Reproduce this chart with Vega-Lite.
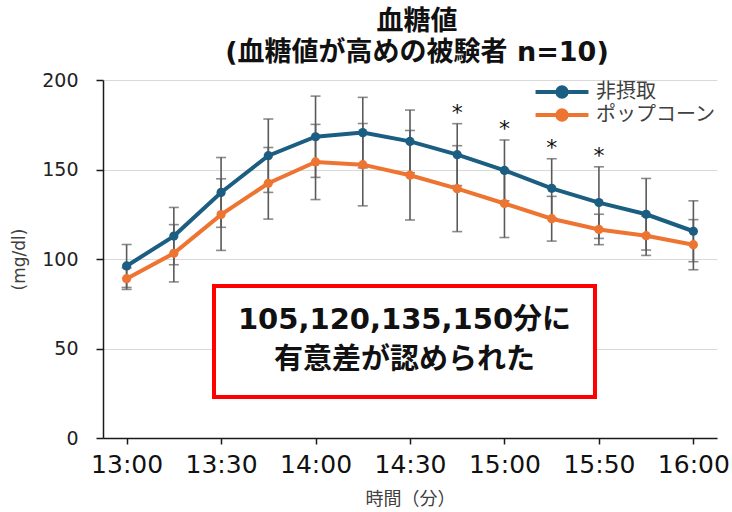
{
  "$schema": "https://vega.github.io/schema/vega-lite/v6.json",
  "width": 614,
  "height": 358,
  "autosize": {"type": "none"},
  "padding": {"left": 103, "top": 80, "right": 15, "bottom": 74},
  "background": "white",
  "title": {
    "text": ["血糖値", "(血糖値が高めの被験者 n=10)"],
    "font": "'DejaVu Sans', 'Noto Sans CJK JP'",
    "fontSize": 27,
    "fontWeight": "bold",
    "lineHeight": 31,
    "color": "#111111",
    "anchor": "middle",
    "dx": 7,
    "offset": 4
  },
  "config": {
    "view": {"stroke": null},
    "axis": {"gridColor": "#d9d9d9", "gridWidth": 1, "domainColor": "#1a1a1a", "domainWidth": 1.5, "tickColor": "#1a1a1a", "tickWidth": 1.5}
  },
  "datasets": {
    "glucose": [
      {"time": 0, "group": "非摂取", "mean": 96.1, "lower": 84.1, "upper": 108.1, "sig": false},
      {"time": 15, "group": "非摂取", "mean": 112.8, "lower": 96.8, "upper": 128.8, "sig": false},
      {"time": 30, "group": "非摂取", "mean": 137.2, "lower": 117.7, "upper": 156.7, "sig": false},
      {"time": 45, "group": "非摂取", "mean": 157.7, "lower": 137.2, "upper": 178.2, "sig": false},
      {"time": 60, "group": "非摂取", "mean": 168.3, "lower": 145.6, "upper": 191.0, "sig": false},
      {"time": 75, "group": "非摂取", "mean": 170.6, "lower": 150.9, "upper": 190.3, "sig": false},
      {"time": 90, "group": "非摂取", "mean": 165.7, "lower": 148.2, "upper": 183.2, "sig": false},
      {"time": 105, "group": "非摂取", "mean": 158.3, "lower": 141.0, "upper": 175.6, "sig": true},
      {"time": 120, "group": "非摂取", "mean": 149.5, "lower": 132.5, "upper": 166.5, "sig": true},
      {"time": 135, "group": "非摂取", "mean": 139.5, "lower": 123.0, "upper": 156.0, "sig": true},
      {"time": 150, "group": "非摂取", "mean": 131.5, "lower": 111.5, "upper": 151.5, "sig": true},
      {"time": 165, "group": "非摂取", "mean": 125.0, "lower": 105.0, "upper": 145.0, "sig": false},
      {"time": 180, "group": "非摂取", "mean": 115.5, "lower": 98.5, "upper": 132.5, "sig": false},
      {"time": 0, "group": "ポップコーン", "mean": 89.0, "lower": 83.0, "upper": 95.0, "sig": false},
      {"time": 15, "group": "ポップコーン", "mean": 103.2, "lower": 87.2, "upper": 119.2, "sig": false},
      {"time": 30, "group": "ポップコーン", "mean": 124.8, "lower": 104.8, "upper": 144.8, "sig": false},
      {"time": 45, "group": "ポップコーン", "mean": 142.3, "lower": 122.3, "upper": 162.3, "sig": false},
      {"time": 60, "group": "ポップコーン", "mean": 154.2, "lower": 133.2, "upper": 175.2, "sig": false},
      {"time": 75, "group": "ポップコーン", "mean": 152.7, "lower": 129.7, "upper": 175.7, "sig": false},
      {"time": 90, "group": "ポップコーン", "mean": 146.8, "lower": 121.8, "upper": 171.8, "sig": false},
      {"time": 105, "group": "ポップコーン", "mean": 139.3, "lower": 115.3, "upper": 163.3, "sig": true},
      {"time": 120, "group": "ポップコーン", "mean": 131.0, "lower": 112.0, "upper": 150.0, "sig": true},
      {"time": 135, "group": "ポップコーン", "mean": 122.5, "lower": 110.0, "upper": 135.0, "sig": true},
      {"time": 150, "group": "ポップコーン", "mean": 116.5, "lower": 108.0, "upper": 125.0, "sig": true},
      {"time": 165, "group": "ポップコーン", "mean": 113.0, "lower": 102.0, "upper": 124.0, "sig": false},
      {"time": 180, "group": "ポップコーン", "mean": 108.0, "lower": 94.0, "upper": 122.0, "sig": false}
    ],
    "note": [
      {"x0": 27.75, "x1": 148.75, "y0": 22.9, "y1": 84.9, "xm": 88.25, "ym": 65.9, "label": "105,120,135,150分に\n有意差が認められた"}
    ]
  },
  "layer": [
    {
      "data": {"name": "glucose"},
      "mark": {"type": "rule", "strokeWidth": 1.6, "color": "#5a5a5a"},
      "encoding": {
        "x": {
          "field": "time", "type": "quantitative",
          "scale": {"domain": [-7.5, 187.5], "nice": false, "zero": false},
          "axis": {
            "title": "時間（分）",
            "titleFont": "Noto Sans CJK JP", "titleFontSize": 18, "titleFontWeight": "normal", "titleColor": "#404040", "titlePadding": 13,
            "values": [0, 30, 60, 90, 120, 150, 180],
            "labelExpr": "['13:00','13:30','14:00','14:30','15:00','15:50','16:00'][datum.value/30]",
            "labelFont": "DejaVu Sans", "labelFontSize": 25, "labelColor": "#111111", "labelPadding": 8,
            "tickSize": 6, "grid": false
          }
        },
        "y": {
          "field": "lower", "type": "quantitative",
          "scale": {"domain": [0, 200]},
          "axis": {
            "title": "(mg/dl)",
            "titleFont": "DejaVu Sans", "titleFontSize": 17, "titleFontWeight": "normal", "titleColor": "#404040", "titlePadding": 13,
            "values": [0, 50, 100, 150, 200],
            "labelFont": "DejaVu Sans", "labelFontSize": 19, "labelColor": "#222222", "labelPadding": 18,
            "tickSize": 7, "grid": true
          }
        },
        "y2": {"field": "upper"}
      }
    },
    {
      "data": {"name": "glucose"},
      "mark": {"type": "tick", "orient": "horizontal", "size": 10, "thickness": 1.6, "color": "#5a5a5a"},
      "encoding": {
        "x": {"field": "time", "type": "quantitative", "axis": {"title": "時間（分）"}},
        "y": {"field": "lower", "type": "quantitative", "axis": {"title": "(mg/dl)"}}
      }
    },
    {
      "data": {"name": "glucose"},
      "mark": {"type": "tick", "orient": "horizontal", "size": 10, "thickness": 1.6, "color": "#5a5a5a"},
      "encoding": {
        "x": {"field": "time", "type": "quantitative", "axis": {"title": "時間（分）"}},
        "y": {"field": "upper", "type": "quantitative", "axis": {"title": "(mg/dl)"}}
      }
    },
    {
      "data": {"name": "glucose"},
      "mark": {"type": "line", "strokeWidth": 4},
      "encoding": {
        "x": {"field": "time", "type": "quantitative", "axis": {"title": "時間（分）"}},
        "y": {"field": "mean", "type": "quantitative", "axis": {"title": "(mg/dl)"}},
        "color": {
          "field": "group", "type": "nominal",
          "scale": {"domain": ["非摂取", "ポップコーン"], "range": ["#1b5e82", "#ed7431"]},
          "legend": {
            "title": null,
            "orient": "none",
            "legendX": 449,
            "legendY": 2,
            "symbolType": "M-4,0H4M-0.7,0A0.7,0.7,0,1,0,0.7,0A0.7,0.7,0,1,0,-0.7,0Z",
            "symbolSize": 175,
            "symbolStrokeWidth": 4,
            "labelFont": "Noto Sans CJK JP",
            "labelFontSize": 20,
            "labelColor": "#404040",
            "labelOffset": 24,
            "rowPadding": -3,
            "padding": 0
          }
        }
      }
    },
    {
      "data": {"name": "glucose"},
      "mark": {"type": "point", "filled": true, "size": 85, "opacity": 1},
      "encoding": {
        "x": {"field": "time", "type": "quantitative", "axis": {"title": "時間（分）"}},
        "y": {"field": "mean", "type": "quantitative", "axis": {"title": "(mg/dl)"}},
        "color": {"field": "group", "type": "nominal", "legend": null}
      }
    },
    {
      "data": {"name": "glucose"},
      "transform": [{"filter": "datum.sig && datum.group === '非摂取'"}],
      "mark": {"type": "text", "text": "*", "font": "DejaVu Sans", "fontSize": 22, "color": "#111111", "baseline": "middle", "dy": -11},
      "encoding": {
        "x": {"field": "time", "type": "quantitative", "axis": {"title": "時間（分）"}},
        "y": {"field": "upper", "type": "quantitative", "axis": {"title": "(mg/dl)"}}
      }
    },
    {
      "data": {"name": "note"},
      "mark": {"type": "rect", "fill": "white", "stroke": "#ff0000", "strokeWidth": 4},
      "encoding": {
        "x": {"field": "x0", "type": "quantitative", "axis": {"title": "時間（分）"}},
        "x2": {"field": "x1"},
        "y": {"field": "y0", "type": "quantitative", "axis": {"title": "(mg/dl)"}},
        "y2": {"field": "y1"}
      }
    },
    {
      "data": {"name": "note"},
      "mark": {"type": "text", "lineBreak": "\n", "font": "'DejaVu Sans', 'Noto Sans CJK JP'", "fontSize": 29, "fontWeight": "bold", "lineHeight": 40, "baseline": "middle", "align": "center", "color": "#111111"},
      "encoding": {
        "x": {"field": "xm", "type": "quantitative", "axis": {"title": "時間（分）"}},
        "y": {"field": "ym", "type": "quantitative", "axis": {"title": "(mg/dl)"}},
        "text": {"field": "label"}
      }
    }
  ]
}
